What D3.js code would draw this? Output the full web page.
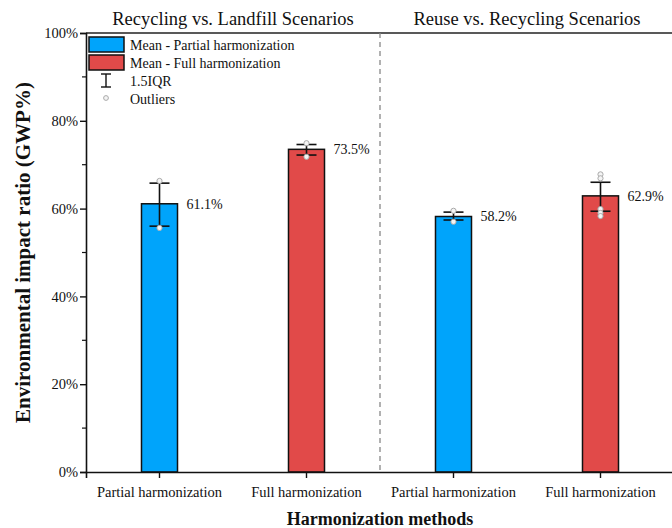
<!DOCTYPE html>
<html>
<head>
<meta charset="utf-8">
<script src="https://cdn.jsdelivr.net/npm/d3@7"></script>
<style>
  html, body { margin: 0; padding: 0; background: #fff; }
  svg { display: block; }
  svg text { font-family: 'Liberation Serif', 'Times New Roman', serif; }
</style>
</head>
<body>
<svg id="chart" width="672" height="528"></svg>
<script>
// Harmonization methods, two scenario groups
const categories = ["Partial harmonization", "Full harmonization", "Partial harmonization", "Full harmonization"];
const methods = ["partial", "full", "partial", "full"];
const groupTitles = ["Recycling vs. Landfill Scenarios", "Reuse vs. Recycling Scenarios"];
const means = [61.1, 73.5, 58.2, 62.9];
const iqrLow = [56.0, 72.2, 57.4, 59.4];
const iqrHigh = [65.8, 74.6, 59.2, 66.0];
const outliers = [
  [66.3, 55.6],
  [74.9, 71.8],
  [59.5, 57.0],
  [67.8, 66.9, 59.9, 59.0, 58.3]
];
const yTicks = [0, 20, 40, 60, 80, 100];
const yMinorTicks = [10, 30, 50, 70, 90];
const legendItems = ["Mean - Partial harmonization", "Mean - Full harmonization", "1.5IQR", "Outliers"];

const colors = { partial: "#00a4fb", full: "#e14a49" };
const FONT = "Liberation Serif";

const svg = d3.select("#chart");
const margin = { left: 86, top: 33, right: -2, bottom: 56 };
const W = 672, H = 528;
const x0 = margin.left, x1 = W - margin.right;
const y0 = H - margin.bottom, y1 = margin.top;

const x = d3.scaleBand().domain(d3.range(categories.length)).range([x0, x1]).paddingInner(0).paddingOuter(0);
const y = d3.scaleLinear().domain([0, 100]).range([y0, y1]);
const barW = x.bandwidth() * 0.245;

// frame: top line
svg.append("line").attr("x1", x0).attr("x2", W).attr("y1", y1).attr("y2", y1)
  .attr("stroke", "#222").attr("stroke-width", 1.6);

// group divider
svg.append("line").attr("x1", x(2)).attr("x2", x(2)).attr("y1", y1).attr("y2", y0)
  .attr("stroke", "#888").attr("stroke-width", 1.3).attr("stroke-dasharray", "5,4");

// bars
const cx = i => x(i) + x.bandwidth() / 2;
svg.append("g").selectAll("rect").data(means).join("rect")
  .attr("x", (d, i) => cx(i) - barW / 2)
  .attr("y", d => y(d))
  .attr("width", barW)
  .attr("height", d => y(0) - y(d))
  .attr("fill", (d, i) => colors[methods[i]])
  .attr("stroke", "#111").attr("stroke-width", 1.5);

// IQR whiskers
const capW = 20;
const eb = svg.append("g").attr("stroke", "#111").attr("stroke-width", 1.6);
means.forEach((m, i) => {
  eb.append("line").attr("x1", cx(i)).attr("x2", cx(i)).attr("y1", y(iqrLow[i])).attr("y2", y(iqrHigh[i]));
  eb.append("line").attr("x1", cx(i) - capW / 2).attr("x2", cx(i) + capW / 2).attr("y1", y(iqrLow[i])).attr("y2", y(iqrLow[i]));
  eb.append("line").attr("x1", cx(i) - capW / 2).attr("x2", cx(i) + capW / 2).attr("y1", y(iqrHigh[i])).attr("y2", y(iqrHigh[i]));
});

// outlier points
const og = svg.append("g");
outliers.forEach((arr, i) => {
  arr.forEach(v => {
    og.append("circle").attr("cx", cx(i)).attr("cy", y(v)).attr("r", 2.6)
      .attr("fill", "#f4f4f4").attr("stroke", "#aaa").attr("stroke-width", 1);
  });
});

// value labels
svg.append("g").selectAll("text").data(means).join("text")
  .attr("x", (d, i) => cx(i) + barW / 2 + 9)
  .attr("y", d => y(d))
  .attr("dy", "0.35em")
  .attr("font-family", FONT).attr("font-size", 14).attr("fill", "#111")
  .text(d => d.toFixed(1) + "%");

// y axis
const yAxis = svg.append("g").attr("transform", `translate(${x0},0)`)
  .call(d3.axisLeft(y).tickValues(yTicks).tickFormat(d => d + "%").tickSize(6).tickPadding(2));
yAxis.attr("font-family", FONT);
yAxis.selectAll("text").attr("font-size", 14.5).attr("font-family", FONT).attr("fill", "#111");
yAxis.select(".domain").attr("stroke", "#111").attr("stroke-width", 1.6);
yAxis.selectAll(".tick line").attr("stroke", "#111").attr("stroke-width", 1.4);
svg.append("g").selectAll("line").data(yMinorTicks).join("line")
  .attr("x1", x0 - 4).attr("x2", x0).attr("y1", d => y(d)).attr("y2", d => y(d))
  .attr("stroke", "#111").attr("stroke-width", 1.2);

// x axis
const xAxis = svg.append("g").attr("transform", `translate(0,${y0})`)
  .call(d3.axisBottom(x).tickFormat(i => categories[i]).tickSize(6).tickPadding(9));
xAxis.attr("font-family", FONT);
xAxis.selectAll("text").attr("font-size", 14.5).attr("font-family", FONT).attr("fill", "#111");
xAxis.select(".domain").attr("stroke", "#111").attr("stroke-width", 1.6);
xAxis.selectAll(".tick line").attr("stroke", "#111").attr("stroke-width", 1.4);

// group titles
groupTitles.forEach((t, g) => {
  svg.append("text").attr("x", (x(2 * g) + x(2 * g + 1) + x.bandwidth()) / 2)
    .attr("y", 25).attr("text-anchor", "middle")
    .attr("font-family", FONT).attr("font-size", 18.5).attr("fill", "#111").text(t);
});

// axis titles
svg.append("text").attr("transform", `translate(30,${(y0 + y1) / 2}) rotate(-90)`)
  .attr("text-anchor", "middle").attr("font-family", FONT).attr("font-size", 21)
  .attr("font-weight", "bold").attr("fill", "#111")
  .text("Environmental impact ratio (GWP%)");
svg.append("text").attr("x", x(2)).attr("y", 525)
  .attr("text-anchor", "middle").attr("font-family", FONT).attr("font-size", 18)
  .attr("font-weight", "bold").attr("fill", "#111")
  .text("Harmonization methods");

// legend
const lg = svg.append("g");
const lx = 89, ly = 37, rowH = 18;
[colors.partial, colors.full].forEach((c, k) => {
  lg.append("rect").attr("x", lx).attr("y", ly + k * rowH).attr("width", 35).attr("height", 15)
    .attr("fill", c).attr("stroke", "#111").attr("stroke-width", 1.5);
});
const ey = ly + 2 * rowH;
const ecx = lx + 17;
lg.append("line").attr("x1", ecx).attr("x2", ecx).attr("y1", ey + 1).attr("y2", ey + 14).attr("stroke", "#111").attr("stroke-width", 1.4);
lg.append("line").attr("x1", ecx - 5).attr("x2", ecx + 5).attr("y1", ey + 1).attr("y2", ey + 1).attr("stroke", "#111").attr("stroke-width", 1.4);
lg.append("line").attr("x1", ecx - 5).attr("x2", ecx + 5).attr("y1", ey + 14).attr("y2", ey + 14).attr("stroke", "#111").attr("stroke-width", 1.4);
lg.append("circle").attr("cx", ecx).attr("cy", ly + 3 * rowH + 7).attr("r", 2.4)
  .attr("fill", "#f4f4f4").attr("stroke", "#aaa");
legendItems.forEach((t, k) => {
  lg.append("text").attr("x", lx + 41).attr("y", ly + k * rowH + 8).attr("dy", "0.35em")
    .attr("font-family", FONT).attr("font-size", 14).attr("fill", "#111").text(t);
});
</script>
</body>
</html>
